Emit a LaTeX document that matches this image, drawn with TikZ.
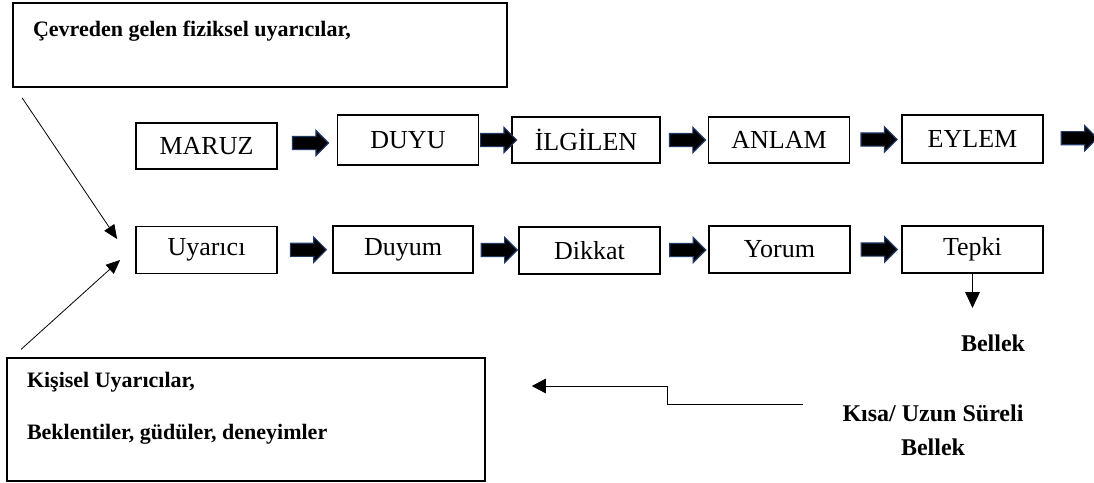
\documentclass[tikz,border=0pt]{standalone}
\usepackage{fontspec}
\setmainfont{Liberation Serif}
\usepackage{xcolor}
\definecolor{cNavy}{HTML}{1F3864}
\usepackage{tikz}
\usetikzlibrary{arrows.meta,shapes.arrows}
\tikzset{
  stage-box/.style={draw,line width=1.1pt,minimum width=106pt,minimum height=35pt,
    inner sep=0pt,font=\fontsize{19.5}{22}\selectfont},
  input-box/.style={draw,line width=1.3pt,inner xsep=15pt,inner ysep=0pt,
    font=\bfseries\fontsize{16.5}{19.8}\selectfont},
  mem-label/.style={align=center,font=\bfseries\fontsize{18}{25.5}\selectfont},
  flow-arrow/.style={single arrow,draw=cNavy,fill=black,line width=0.9pt,
    minimum height=27pt,inner sep=4.5pt,single arrow head extend=4.5pt},
  thin-arrow/.style={-{Triangle[length=10.5pt,width=9pt]},line width=0.6pt},
}
\begin{document}
\begin{tikzpicture}[x=0.75pt,y=-0.75pt]
  \useasboundingbox (0,0) rectangle (1094,482);
  % uyarici kaynaklari
  \node[input-box] (env) at (260,45)
    {\parbox[c][63pt][t]{340.5pt}{\vspace*{13.5pt}Çevreden gelen fiziksel uyarıcılar,}};
  \node[input-box] (kisel) at (246,419.5)
    {\parbox[c][92pt][t]{328.5pt}{\vspace*{10.5pt}Kişisel Uyarıcılar,\\[19.2pt]Beklentiler, güdüler, deneyimler}};
  % ust sira
  \node[stage-box,minimum height=34.5pt] (maruz) at (206.5,146) {MARUZ};
  \node[stage-box,minimum height=37.5pt] (duyu) at (408,140) {DUYU};
  \node[stage-box,minimum width=111pt,minimum height=34.5pt] (ilgilen) at (586,140) {İLGİLEN};
  \node[stage-box,minimum height=34.5pt] (anlam) at (779,140) {ANLAM};
  \node[stage-box,minimum height=36pt] (eylem) at (972.5,139) {EYLEM};
  % alt sira
  \node[stage-box] (uyarici) at (206.5,250) {Uyarıcı};
  \node[stage-box,minimum width=105pt] (duyum) at (403,249.5) {Duyum};
  \node[stage-box] (dikkat) at (589.5,250.5) {Dikkat};
  \node[stage-box] (yorum) at (779.5,249.5) {Yorum};
  \node[stage-box] (tepki) at (972.5,249.5) {Tepki};
  \node[mem-label] (bellek) at (993,343) {Bellek};
  \node[mem-label] (kisa-uzun) at (933,430) {Kısa/ Uzun Süreli\\Bellek};
  \coordinate (exit) at (1108,138);
  \coordinate (tepki-out) at (972.5,308);
  \coordinate (mem-out) at (803,404);
  \path (maruz) -- node[flow-arrow] {} (duyu);
  \path (duyu) -- node[flow-arrow] {} (ilgilen);
  \path (ilgilen) -- node[flow-arrow] {} (anlam);
  \path (anlam) -- node[flow-arrow] {} (eylem);
  \path (eylem) -- node[flow-arrow] {} (exit);
  \path (uyarici) -- node[flow-arrow] {} (duyum);
  \path (duyum) -- node[flow-arrow] {} (dikkat);
  \path (dikkat) -- node[flow-arrow] {} (yorum);
  \path (yorum) -- node[flow-arrow] {} (tepki);
  \draw[thin-arrow] ([shift={(10,10)}]env.south west) -- ([shift={(-18,-11)}]uyarici.west);
  \draw[thin-arrow] ([shift={(15,-8)}]kisel.north west) -- ([shift={(-15,10)}]uyarici.west);
  \draw[thin-arrow,-{Triangle[length=12pt,width=11pt]}] (tepki.south) -- (tepki-out);
  \draw[thin-arrow,-{Triangle[length=10.5pt,width=11pt]},shorten >=34.5pt]
    (mem-out) -- (667,404) |- (kisel.east |- 0,386);
\end{tikzpicture}
\end{document}
